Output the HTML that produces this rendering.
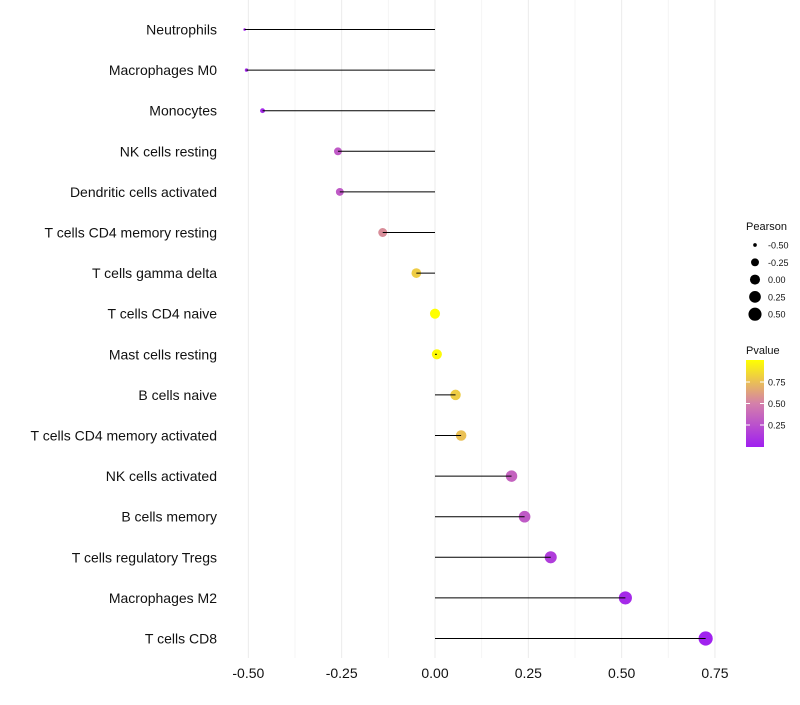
<!DOCTYPE html>
<html><head><meta charset="utf-8"><style>
body{margin:0;background:#fff;font-family:"Liberation Sans",sans-serif}
</style></head><body>
<svg id="c" width="800" height="700" xmlns="http://www.w3.org/2000/svg"></svg>
<script>
const categories=["Neutrophils","Macrophages M0","Monocytes","NK cells resting","Dendritic cells activated","T cells CD4 memory resting","T cells gamma delta","T cells CD4 naive","Mast cells resting","B cells naive","T cells CD4 memory activated","NK cells activated","B cells memory","T cells regulatory  Tregs ","Macrophages M2","T cells CD8"];
const pearson=[-0.51,-0.505,-0.462,-0.26,-0.255,-0.14,-0.05,0.0,0.005,0.055,0.07,0.205,0.24,0.31,0.51,0.725];
const pvalue=[0.02,0.03,0.05,0.3,0.3,0.55,0.8,1.0,0.98,0.8,0.75,0.35,0.3,0.15,0.05,0.01];
const xTicks=[-0.5,-0.25,0,0.25,0.5,0.75];
const xTickLabels=["-0.50","-0.25","0.00","0.25","0.50","0.75"];
const sizeLegend=[-0.5,-0.25,0,0.25,0.5];
const sizeLegendLabels=["-0.50","-0.25","0.00","0.25","0.50"];
const pLegend=[0.25,0.5,0.75];
const pLegendLabels=["0.25","0.50","0.75"];

const NS="http://www.w3.org/2000/svg";
const svg=document.getElementById('c');
const pMin=Math.min(...pearson),pMax=Math.max(...pearson);
function x(v){return 435+v*373.3;}
function y(i){return 29.5+i*40.6;}
function r(v){const t=Math.max(0,Math.min(1,(v-pMin)/(pMax-pMin)));return 1.3+5.8*Math.sqrt(t);}
function lerp(a,b,t){return a+(b-a)*t;}
function col(p){
  const stops=[[0,[160,32,240]],[0.5,[212,128,170]],[1,[255,255,0]]];
  p=Math.max(0,Math.min(1,p));
  let s=p<0.5?0:1;
  const a=stops[s],b=stops[s+1];const t=(p-a[0])/(b[0]-a[0]);
  return `rgb(${Math.round(lerp(a[1][0],b[1][0],t))},${Math.round(lerp(a[1][1],b[1][1],t))},${Math.round(lerp(a[1][2],b[1][2],t))})`;
}
function mk(tag,attrs,parent){const e=document.createElementNS(NS,tag);for(const k in attrs)e.setAttribute(k,attrs[k]);(parent||svg).appendChild(e);return e;}

for(let i=0;i<xTicks.length;i++){
  const g=mk('line',{x1:x(xTicks[i]),x2:x(xTicks[i]),y1:0,y2:658,stroke:'#ebebeb','stroke-width':1});
  
  
  if(i<xTicks.length-1){
    const m=(xTicks[i]+xTicks[i+1])/2;
    const g2=mk('line',{x1:x(m),x2:x(m),y1:0,y2:658,stroke:'#f4f4f4','stroke-width':1});
    
    
  }
  const t=mk('text',{x:x(xTicks[i]),y:678,'text-anchor':'middle','font-size':14,fill:'#111'});
  t.textContent=xTickLabels[i];
  
  
}
for(let i=0;i<categories.length;i++){
  const lab=mk('text',{x:217,y:y(i)+5,'text-anchor':'end','font-size':14,fill:'#111','xml:space':'preserve'});
  lab.textContent=categories[i];
  
  
  const c=mk('circle',{cx:x(pearson[i]),cy:y(i),r:r(pearson[i]),fill:col(pvalue[i])});
  
  
  const l=mk('line',{x1:x(0),x2:x(pearson[i]),y1:y(i),y2:y(i),stroke:'#000','stroke-width':1});
  
  
}
const lt=mk('text',{x:746,y:230,'font-size':11,fill:'#111'});lt.textContent='Pearson';


for(let i=0;i<sizeLegend.length;i++){
  const cy=245+i*17.3;
  const c=mk('circle',{cx:755,cy:cy,r:r(sizeLegend[i]),fill:'#000'});
  
  
  const t=mk('text',{x:768,y:cy+3.5,'font-size':9,fill:'#111'});t.textContent=sizeLegendLabels[i];
  
  
}
const pt=mk('text',{x:746,y:354,'font-size':11,fill:'#111'});pt.textContent='Pvalue';


const defs=mk('defs',{});
const gr=mk('linearGradient',{id:'pg',x1:0,y1:1,x2:0,y2:0},defs);
for(let k=0;k<=10;k++)mk('stop',{offset:k/10,'stop-color':col(k/10)},gr);
const bar=mk('rect',{x:746,y:360,width:18,height:87,fill:'url(#pg)'});


for(let i=0;i<pLegend.length;i++){
  const yy=446.5-pLegend[i]*86;
  mk('line',{x1:746,x2:750,y1:yy,y2:yy,stroke:'#fff','stroke-width':1});
  mk('line',{x1:760,x2:764,y1:yy,y2:yy,stroke:'#fff','stroke-width':1});
  const t=mk('text',{x:768,y:yy+3.5,'font-size':9,fill:'#111'});t.textContent=pLegendLabels[i];
  
  
}
</script>
</body></html>
